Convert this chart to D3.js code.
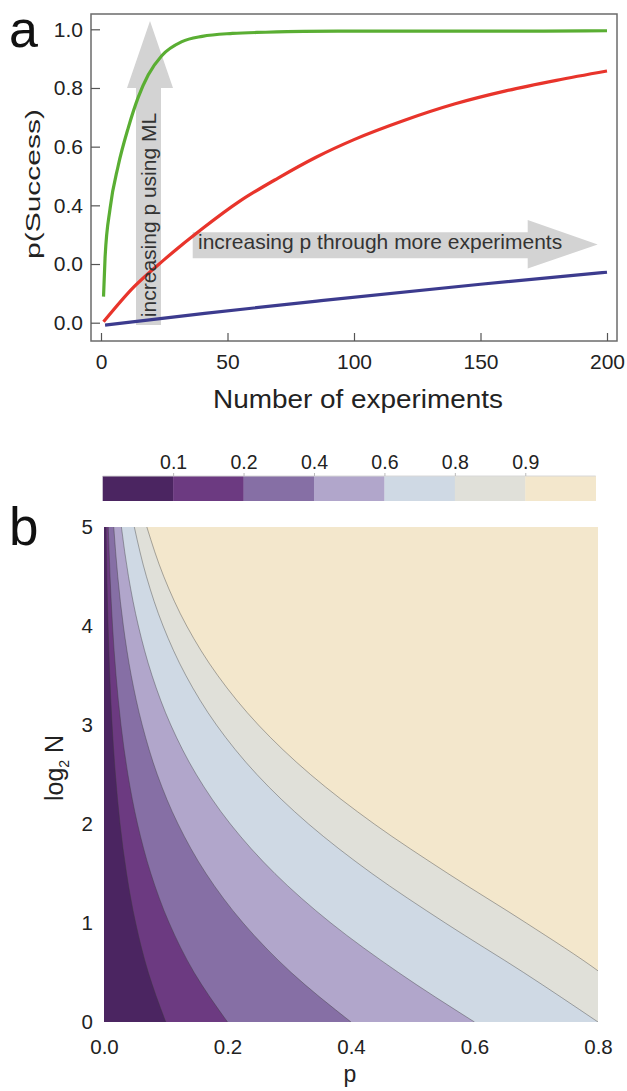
<!DOCTYPE html>
<html>
<head>
<meta charset="utf-8">
<script src="https://cdn.jsdelivr.net/npm/d3@7"></script>
<style>
  body { margin: 0; background: #fff; }
  svg { display: block; font-family: "Liberation Sans", Arial, sans-serif; }
  .tick text { fill: #222; }
</style>
</head>
<body>
<div class="chart"></div>
<script>
// panel a: success probability against number of experiments
const nGreen = [1, 1.6, 3.6, 6.8, 10.8, 14.7, 18.7, 24, 32, 40, 52, 65, 80, 100, 125, 150, 175, 200];
const pGreen = [0.089, 0.22, 0.39, 0.535, 0.665, 0.768, 0.845, 0.91, 0.958, 0.976, 0.986, 0.99, 0.993, 0.994, 0.994, 0.994, 0.994, 0.995];
const nRed = [1, 13, 25, 40, 55, 70, 85, 100, 120, 140, 160, 180, 200];
const pRed = [0.003, 0.122, 0.215, 0.32, 0.415, 0.493, 0.564, 0.624, 0.69, 0.746, 0.79, 0.826, 0.858];
const nBlue = [1.6, 41, 87, 150, 200];
const pBlue = [-0.008, 0.032, 0.075, 0.131, 0.172];
const xTicksA = [0, 50, 100, 150, 200];
const yTicksA = [0, 0.2, 0.4, 0.6, 0.8, 1.0];
const yTickLabelsA = ["0.0", "0.0", "0.4", "0.6", "0.8", "1.0"];

// panel b: contour bands, p at each log2 N for every level
const log2N = [0, 0.5, 1, 1.5, 2, 2.5, 3, 3.5, 4, 4.5, 5];
const levels = [0.1, 0.2, 0.4, 0.6, 0.8, 0.9];
const contourP = [
  [0.1, 0.0718, 0.0513, 0.0366, 0.026, 0.0185, 0.0131, 0.0093, 0.0066, 0.0046, 0.0033],
  [0.2, 0.146, 0.1056, 0.0759, 0.0543, 0.0387, 0.0275, 0.0195, 0.0138, 0.0098, 0.0069],
  [0.4, 0.3032, 0.2254, 0.1652, 0.1199, 0.0863, 0.0619, 0.0441, 0.0314, 0.0223, 0.0158],
  [0.6, 0.4769, 0.3675, 0.2767, 0.2047, 0.1495, 0.1082, 0.0778, 0.0557, 0.0397, 0.0282],
  [0.8, 0.6796, 0.5528, 0.4339, 0.3313, 0.2476, 0.1822, 0.1326, 0.0957, 0.0687, 0.0491],
  [0.9, 0.8037, 0.6838, 0.557, 0.4377, 0.3344, 0.2501, 0.1842, 0.134, 0.0968, 0.0694]
];
const bandColors = ["#4b2561", "#6c3a81", "#866fa5", "#b1a6cb", "#cfd9e4", "#e0e0d9", "#f3e7cc"];
const pTicks = [0, 0.2, 0.4, 0.6, 0.8];
const log2Ticks = [0, 1, 2, 3, 4, 5];

const W = 627, H = 1091;
const svg = d3.select('.chart').append('svg')
  .attr('width', W).attr('height', H)
  .attr('viewBox', `0 0 ${W} ${H}`);

// ---------- panel a ----------
let x = d3.scaleLinear().domain([0, 200]).range([101, 607]);
let y = d3.scaleLinear().domain([0, 1]).range([322.7, 29.3]);

// frame
svg.append('rect')
  .attr('x', 91).attr('y', 14)
  .attr('width', 526).attr('height', 327)
  .attr('fill', 'none').attr('stroke', '#6b6b6b').attr('stroke-width', 1.5);

let gx = svg.append('g').attr('transform', 'translate(0,341)')
  .call(d3.axisBottom(x).tickValues(xTicksA).tickSize(-8).tickPadding(13).tickFormat(d3.format('d')));
let gy = svg.append('g').attr('transform', 'translate(91,0)')
  .call(d3.axisLeft(y).tickValues(yTicksA).tickSize(-9).tickPadding(8)
    .tickFormat((d, i) => yTickLabelsA[i]));
[gx, gy].forEach(g => {
  g.select('.domain').remove();
  g.selectAll('.tick line').attr('stroke', '#555').attr('stroke-width', 1.2);
  g.selectAll('.tick text').attr('font-size', 21).attr('font-family', '"Liberation Sans", Arial, sans-serif');
});

// gray arrows (drawn under the curves)
const arrowFill = '#d3d3d3';
svg.append('path')
  .attr('d', 'M136,325 L161,325 L161,88 L173,88 L150,21 L127,88 L136,88 Z')
  .attr('fill', arrowFill);
svg.append('path')
  .attr('d', 'M192.7,232.3 L527.7,232.3 L527.7,220 L597.7,244.5 L527.7,268.5 L527.7,258.3 L192.7,258.3 Z')
  .attr('fill', arrowFill);

let line = d3.line().x(d => x(d[0])).y(d => y(d[1])).curve(d3.curveMonotoneX);
const series = [
  { n: nBlue, p: pBlue, color: '#3c3b8e' },
  { n: nRed, p: pRed, color: '#e8342b' },
  { n: nGreen, p: pGreen, color: '#5aae33' }
];
series.forEach(s => {
  svg.append('path')
    .datum(s.n.map((v, i) => [v, s.p[i]]))
    .attr('d', line)
    .attr('fill', 'none')
    .attr('stroke', s.color)
    .attr('stroke-width', 3.2);
});

// arrow texts
svg.append('text')
  .attr('transform', 'translate(156,215) rotate(-90)')
  .attr('text-anchor', 'middle')
  .attr('font-size', 21).attr('fill', '#333')
  .text('increasing p using ML');
svg.append('text')
  .attr('x', 198).attr('y', 248.5)
  .attr('font-size', 21).attr('fill', '#333')
  .text('increasing p through more experiments');

// axis titles and panel letter
svg.append('text')
  .attr('transform', 'translate(40,184) rotate(-90)')
  .attr('text-anchor', 'middle')
  .attr('font-size', 21).attr('fill', '#222')
  .attr('textLength', 150).attr('lengthAdjust', 'spacingAndGlyphs')
  .text('p(Success)');
svg.append('text')
  .attr('x', 213).attr('y', 408)
  .attr('font-size', 25).attr('fill', '#222')
  .attr('textLength', 290).attr('lengthAdjust', 'spacingAndGlyphs')
  .text('Number of experiments');
svg.append('text')
  .attr('x', 9).attr('y', 47)
  .attr('font-size', 52).attr('fill', '#111')
  .text('a');

// ---------- colour bar ----------
let cb = d3.scaleLinear().domain([0, 7]).range([102.7, 595.7]);
svg.append('g').selectAll('rect')
  .data(bandColors)
  .enter()
  .append('rect')
  .attr('x', (d, i) => cb(i))
  .attr('y', 476)
  .attr('width', (d, i) => cb(i + 1) - cb(i) + 0.3)
  .attr('height', 25)
  .attr('fill', d => d);
svg.append('line')
  .attr('x1', cb(0)).attr('x2', cb(7)).attr('y1', 476).attr('y2', 476)
  .attr('stroke', '#d8d8d8').attr('stroke-width', 1);
let gcb = svg.append('g').attr('transform', 'translate(0,476)')
  .call(d3.axisTop(cb).tickValues(levels.map((d, i) => i + 1)).tickSize(3).tickPadding(4)
    .tickFormat((d, i) => levels[i]));
gcb.select('.domain').remove();
gcb.selectAll('.tick line').attr('stroke', '#bbb');
gcb.selectAll('.tick text').attr('font-size', 19.5).attr('font-family', '"Liberation Sans", Arial, sans-serif');

// ---------- panel b ----------
let px = d3.scaleLinear().domain([0, 0.8]).range([104, 598]);
let py = d3.scaleLinear().domain([0, 5]).range([1022, 527]);

svg.append('clipPath').attr('id', 'clipb')
  .append('rect')
  .attr('x', px(0)).attr('y', py(5))
  .attr('width', px(0.8) - px(0)).attr('height', py(0) - py(5));

let gb = svg.append('g').attr('clip-path', 'url(#clipb)');
gb.append('rect')
  .attr('x', px(0)).attr('y', py(5))
  .attr('width', px(0.8) - px(0)).attr('height', py(0) - py(5))
  .attr('fill', bandColors[6]);

let band = d3.area()
  .y(d => py(d[1]))
  .x0(px(0) - 2)
  .x1(d => px(d[0]))
  .curve(d3.curveMonotoneY);
let contourLine = d3.line()
  .x(d => px(d[0]))
  .y(d => py(d[1]))
  .curve(d3.curveMonotoneY);

for (let i = levels.length - 1; i >= 0; i--) {
  let pts = contourP[i].map((v, j) => [v, log2N[j]]);
  gb.append('path').datum(pts).attr('d', band).attr('fill', bandColors[i]);
}
contourP.forEach(c => {
  let pts = c.map((v, j) => [v, log2N[j]]);
  gb.append('path').datum(pts).attr('d', contourLine)
    .attr('fill', 'none').attr('stroke', '#3a3a3a').attr('stroke-opacity', 0.5).attr('stroke-width', 0.8);
});

let gbx = svg.append('g').attr('transform', 'translate(0,1022)')
  .call(d3.axisBottom(px).tickValues(pTicks).tickSize(0).tickPadding(17).tickFormat(d3.format('.1f')));
let gby = svg.append('g').attr('transform', 'translate(104,0)')
  .call(d3.axisLeft(py).tickValues(log2Ticks).tickSize(0).tickPadding(11).tickFormat(d3.format('d')));
[gbx, gby].forEach(g => {
  g.select('.domain').remove();
  g.selectAll('.tick text').attr('font-size', 20.5).attr('font-family', '"Liberation Sans", Arial, sans-serif');
});

svg.append('text')
  .attr('x', 350).attr('y', 1082)
  .attr('text-anchor', 'middle')
  .attr('font-size', 23).attr('fill', '#222')
  .text('p');
let ylab = svg.append('text')
  .attr('transform', 'translate(63,768) rotate(-90)')
  .attr('text-anchor', 'middle')
  .attr('font-size', 25).attr('fill', '#222');
ylab.append('tspan').text('log');
ylab.append('tspan').attr('font-size', 14).attr('dy', 6).text('2');
ylab.append('tspan').attr('dy', -6).text(' N');
svg.append('text')
  .attr('x', 9).attr('y', 545)
  .attr('font-size', 53).attr('fill', '#111')
  .text('b');
</script>
</body>
</html>
